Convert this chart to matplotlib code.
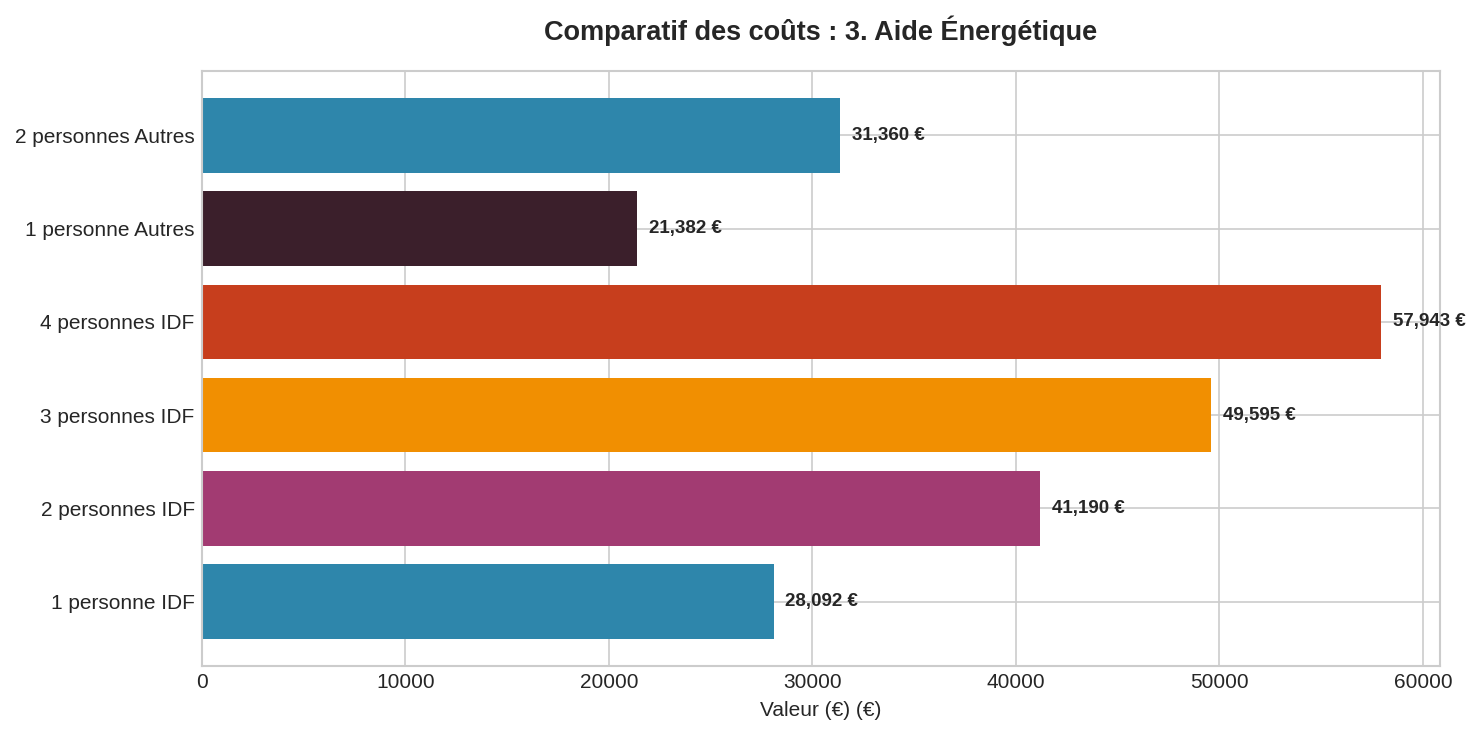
"""
Comparatif des couts - aide energetique
"""
import matplotlib
matplotlib.use('Agg')
import matplotlib.pyplot as plt

# data
categories = ['1 personne IDF', '2 personnes IDF', '3 personnes IDF',
              '4 personnes IDF', '1 personne Autres', '2 personnes Autres']
values = [28092, 41190, 49595, 57943, 21382, 31360]
palette = ['#2E86AB', '#A23B72', '#F18F01', '#C73E1D', '#3B1F2B']
title = 'Comparatif des coûts : 3. Aide Énergétique'
xlabel = 'Valeur (€) (€)'

plt.style.use('seaborn-v0_8-whitegrid')
plt.rcParams['font.family'] = ['Liberation Sans', 'DejaVu Sans']

colors = [palette[i % len(palette)] for i in range(len(values))]

fig = plt.figure(figsize=(1482 / 150, 735 / 150), dpi=150)
ax = fig.add_axes([202 / 1482, 1 - 666 / 735, (1440 - 202) / 1482, (666 - 71) / 735])
ax.barh(range(len(values)), values, height=0.8, color=colors, zorder=2)
ax.set_yticks(range(len(values)))
ax.set_yticklabels(categories)

# value labels
off = max(values) * 0.01
for i, v in enumerate(values):
    ax.text(v + off, i, '{:,.0f} €'.format(v), va='center', ha='left',
            fontsize=9, fontweight='bold', color='#262626', zorder=3)

ax.set_xlabel(xlabel, fontsize=10, color='#262626')
ax.set_title(title, fontsize=13, fontweight='bold', color='#262626', pad=15)
ax.tick_params(labelsize=10, labelcolor='#262626')
for s in ax.spines.values():
    s.set_visible(True)
    s.set_color('#cccccc')
    s.set_linewidth(1.0)
ax.grid(True, color='#cccccc', linewidth=0.8, zorder=0)
ax.set_axisbelow(True)

fig.savefig('out.png', dpi=150)
